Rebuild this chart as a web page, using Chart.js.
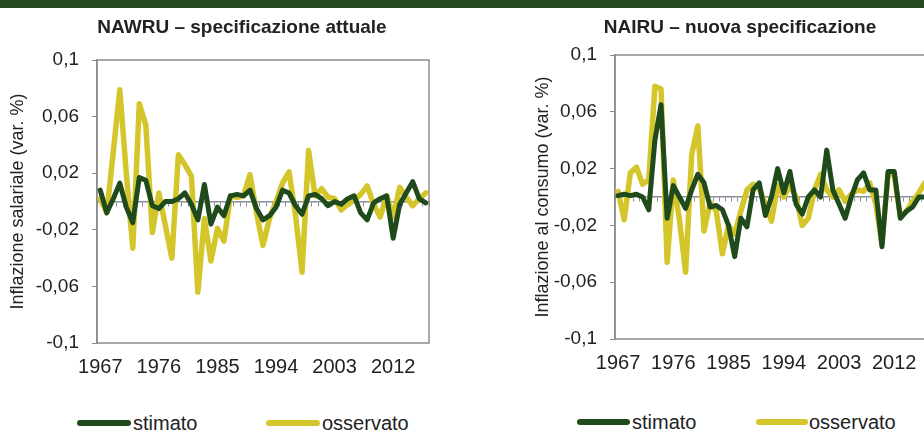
<!DOCTYPE html>
<html>
<head>
<meta charset="utf-8">
<script src="https://cdn.jsdelivr.net/npm/chart.js@4.4.1/dist/chart.umd.min.js"></script>
<style>
  html, body { margin: 0; padding: 0; background: #fff; }
  body { width: 924px; height: 430px; overflow: hidden; position: relative; font-family: 'Liberation Sans', Arial, sans-serif; }
  #band { position: absolute; left: 0; top: 0; width: 924px; height: 8px; background: #264a20; }
  .box { position: absolute; top: 0; height: 390px; }
  .leg { position: absolute; font-size: 20px; color: #222; line-height: 20px; }
  .leg i { position: absolute; height: 6px; border-radius: 3px; }
</style>
</head>
<body>
<div id="band"></div>
<div class="box" style="left:0;width:484px"><canvas id="chartWage"></canvas></div>
<div class="box" style="left:462px;width:556px"><canvas id="chartCons"></canvas></div>

<div class="leg" style="left:77px;top:413px"><i style="left:0;top:7px;width:54px;background:#1f4b1c"></i><span style="margin-left:56px">stimato</span></div>
<div class="leg" style="left:266px;top:413px"><i style="left:0;top:7px;width:54px;background:#d4c62a"></i><span style="margin-left:56px">osservato</span></div>
<div class="leg" style="left:577px;top:412px"><i style="left:0;top:7px;width:53px;background:#1f4b1c"></i><span style="margin-left:55px">stimato</span></div>
<div class="leg" style="left:756px;top:412px"><i style="left:0;top:7px;width:52px;background:#d4c62a"></i><span style="margin-left:53px">osservato</span></div>

<script>
const years = ['1967','1968','1969','1970','1971','1972','1973','1974','1975','1976',
  '1977','1978','1979','1980','1981','1982','1983','1984','1985','1986',
  '1987','1988','1989','1990','1991','1992','1993','1994','1995','1996',
  '1997','1998','1999','2000','2001','2002','2003','2004','2005','2006',
  '2007','2008','2009','2010','2011','2012','2013','2014','2015','2016','2017'];

// NAWRU - specificazione attuale
const wageStimato = [0.008, -0.008, 0.002, 0.013, -0.004, -0.015, 0.017, 0.015, -0.003, -0.005,
  0.000, 0.000, 0.002, 0.006, -0.002, -0.013, 0.012, -0.016, -0.004, -0.010,
  0.004, 0.005, 0.004, 0.008, -0.005, -0.013, -0.010, -0.004, 0.008, 0.006,
  -0.003, -0.009, 0.004, 0.005, 0.002, -0.003, 0.000, -0.002, 0.002, 0.004,
  -0.008, -0.013, -0.001, 0.002, 0.004, -0.026, -0.002, 0.006, 0.014, 0.002, -0.001];
const wageOsservato = [0.002, -0.008, 0.035, 0.079, 0.020, -0.033, 0.069, 0.054, -0.022, 0.006,
  -0.017, -0.040, 0.033, 0.026, 0.018, -0.064, -0.012, -0.042, -0.019, -0.028,
  0.004, 0.003, 0.004, 0.019, -0.008, -0.031, -0.012, 0.000, 0.013, 0.021,
  -0.010, -0.050, 0.036, 0.004, 0.009, 0.003, 0.002, -0.006, -0.002, 0.001,
  0.005, 0.011, -0.002, -0.011, 0.004, -0.011, 0.010, 0.003, -0.003, 0.002, 0.006];

// NAIRU - nuova specificazione
const consStimato = [0.001, 0.002, 0.001, 0.002, 0.000, -0.009, 0.040, 0.065, -0.015, 0.008,
  0.000, -0.008, 0.005, 0.016, 0.010, -0.007, -0.006, -0.009, -0.020, -0.042,
  -0.015, -0.021, 0.005, 0.010, -0.013, 0.000, 0.020, 0.003, 0.018, -0.005,
  -0.012, 0.000, 0.005, 0.000, 0.033, 0.005, -0.005, -0.015, 0.000, 0.012,
  0.017, 0.005, 0.005, -0.035, 0.018, 0.018, -0.015, -0.010, -0.007, 0.000, 0.000];
const consOsservato = [0.004, -0.016, 0.017, 0.021, 0.009, 0.012, 0.078, 0.076, -0.046, 0.012,
  -0.016, -0.053, 0.030, 0.050, -0.024, -0.004, -0.010, -0.040, -0.020, -0.026,
  -0.010, 0.005, 0.009, 0.006, -0.005, -0.017, 0.008, 0.000, 0.008, 0.000,
  -0.020, -0.015, 0.005, 0.016, 0.005, 0.000, 0.005, -0.003, 0.002, 0.005,
  0.004, 0.010, -0.005, -0.033, 0.017, 0.015, -0.014, -0.010, -0.003, 0.003, 0.010];

const yTickValues = [-0.1, -0.06, -0.02, 0.02, 0.06, 0.1];
const yTickLabels = ['-0,1', '-0,06', '-0,02', '0,02', '0,06', '0,1'];

const green = '#1f4b1c';
const yellow = '#d4c62a';
const frameColor = '#8c8c8c';
const zeroColor = '#8a8d9a';
const textColor = '#222';
const family = "'Liberation Sans', Arial, sans-serif";

// box round the plot area
const framePlugin = {
  id: 'frame',
  beforeDatasetsDraw(chart) {
    const { ctx, chartArea: a } = chart;
    ctx.save();
    ctx.strokeStyle = frameColor;
    ctx.lineWidth = 1.5;
    ctx.strokeRect(a.left, a.top, a.right - a.left, a.bottom - a.top);
    ctx.restore();
  }
};

function makeChart(id, title, yTitle, stimato, osservato, lay) {
  const ctx = document.getElementById(id).getContext('2d');
  return new Chart(ctx, {
    type: 'line',
    data: {
      labels: years,
      datasets: [
        { label: 'stimato', data: stimato, borderColor: green, backgroundColor: green,
          borderWidth: 5, pointRadius: 0, tension: 0, borderJoinStyle: 'round', borderCapStyle: 'round' },
        { label: 'osservato', data: osservato, borderColor: yellow, backgroundColor: yellow,
          borderWidth: 5.5, pointRadius: 0, tension: 0, borderJoinStyle: 'round', borderCapStyle: 'round' }
      ]
    },
    options: {
      responsive: true,
      maintainAspectRatio: false,
      animation: false,
      layout: { padding: { left: 0, right: 0, top: 16, bottom: lay.padBottom } },
      plugins: {
        legend: { display: false },
        tooltip: { enabled: false },
        title: {
          display: true,
          text: title,
          color: textColor,
          font: { family: family, size: 19, weight: 'bold' },
          padding: { top: 0, bottom: lay.titleBottom }
        }
      },
      scales: {
        x: {
          offset: true,
          grid: { display: false },
          border: { display: false },
          ticks: {
            autoSkip: false,
            maxRotation: 0,
            padding: 4,
            color: textColor,
            font: { family: family, size: 20 },
            callback: function (val, i) { return i % 9 === 0 ? this.getLabelForValue(val) : ''; }
          }
        },
        x2: {
          type: 'category',
          position: { y: 0 },
          offset: true,
          ticks: { display: false },
          grid: { drawOnChartArea: false, tickLength: 4, color: zeroColor, offset: true },
          border: { color: zeroColor, width: 1.5 }
        },
        y: {
          min: -0.1,
          max: 0.1,
          afterBuildTicks: (scale) => { scale.ticks = yTickValues.map(v => ({ value: v })); },
          afterFit: (scale) => { scale.width = lay.yWidth; },
          ticks: {
            padding: 13,
            color: textColor,
            font: { family: family, size: 19 },
            callback: (v) => {
              const k = yTickValues.findIndex(t => Math.abs(t - v) < 1e-9);
              return k >= 0 ? yTickLabels[k] : '';
            }
          },
          grid: { drawOnChartArea: false, tickLength: 5, color: frameColor },
          border: { color: frameColor, width: 1.5 },
          title: {
            display: true,
            text: yTitle,
            color: textColor,
            font: { family: family, size: 18 },
            padding: { top: lay.yTitlePad, bottom: 0 }
          }
        },
        // empty right axis, only keeps space so the title stays centred like the original
        yRight: {
          position: 'right',
          ticks: { display: false },
          grid: { display: false },
          border: { display: false },
          afterFit: (scale) => { scale.width = lay.rightWidth; }
        }
      }
    },
    plugins: [framePlugin]
  });
}

makeChart('chartWage', 'NAWRU – specificazione attuale', 'Inflazione salariale (var. %)',
  wageStimato, wageOsservato,
  { padBottom: 7, titleBottom: 21.2, yWidth: 97, rightWidth: 55, yTitlePad: 7 });

makeChart('chartCons', 'NAIRU – nuova specificazione', 'Inflazione al consumo (var. %)',
  consStimato, consOsservato,
  { padBottom: 11, titleBottom: 16.2, yWidth: 153, rightWidth: 90, yTitlePad: 70 });
</script>
</body>
</html>
